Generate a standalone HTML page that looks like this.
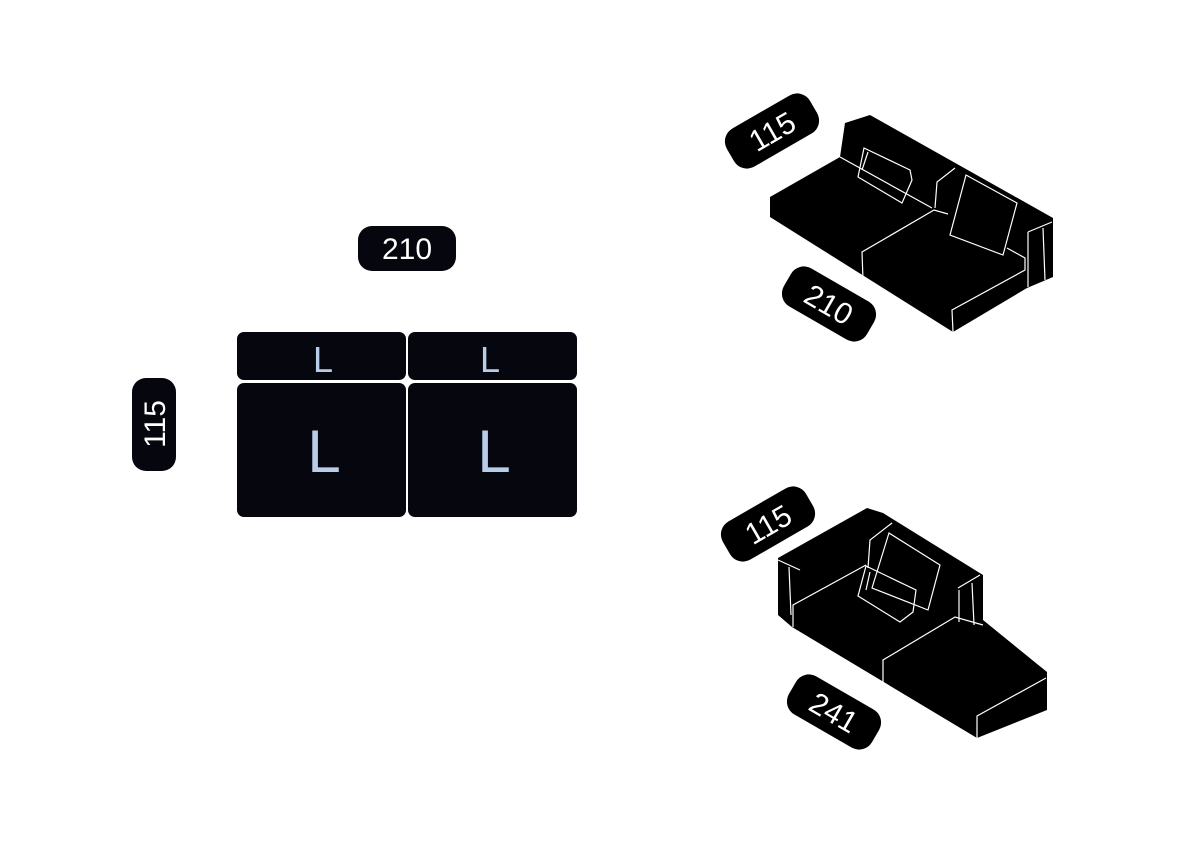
<!DOCTYPE html>
<html><head><meta charset="utf-8"><style>
html,body{margin:0;padding:0;background:#fff;}
svg{display:block}
text{font-family:"Liberation Sans",sans-serif;}
</style></head><body>
<svg width="1200" height="847" viewBox="0 0 1200 847" xmlns="http://www.w3.org/2000/svg">
<rect width="1200" height="847" fill="#fff"/>
<!-- plan -->
<rect x="358" y="226" width="98" height="45" rx="14" fill="#06060f"/>
<text x="407" y="259" font-size="30" fill="#fff" text-anchor="middle">210</text>
<rect x="132" y="378" width="44" height="93" rx="14" fill="#06060f"/>
<text transform="translate(165,424) rotate(-90)" font-size="30" fill="#fff" text-anchor="middle">115</text>
<g fill="#06060f">
<rect x="237" y="332" width="169" height="48" rx="7"/>
<rect x="408" y="332" width="169" height="48" rx="7"/>
<rect x="237" y="383" width="169" height="134" rx="7"/>
<rect x="408" y="383" width="169" height="134" rx="7"/>
</g>
<g fill="#b7cde8" text-anchor="middle">
<text x="323" y="372" font-size="36">L</text>
<text x="490" y="372" font-size="36">L</text>
<text x="324" y="472" font-size="60">L</text>
<text x="494" y="472" font-size="60">L</text>
</g>
<!-- top-right sofa -->
<polygon points="770,197 840,157 845,123 870,115 1053,218 1053,277 1027,288 953,332 770,217" fill="#000"/>
<g fill="none" stroke="#fff" stroke-width="1.2">
<polyline points="840,157 932,208"/>
<polyline points="863,280 862,252 934,210 948,214"/>
<polyline points="953,332 952,310 1025,270 1025,258 1007,248"/>
<polyline points="935,208 937,182 955,168"/>
<polygon points="864,148 910,170 912,180 902,203 858,177"/>
<polyline points="868,152 862,170"/>
<polygon points="966,175 1017,203 1003,255 950,235"/>
<polyline points="1028,232 1052,222"/>
<polyline points="1028,232 1028,287"/>
<polyline points="1043,228 1045,280"/>
</g>
<!-- bottom-right sofa -->
<polygon points="778,558 867,508 883,513 983,575 983,620 1047,672 1047,710 977,738 792,627 778,615" fill="#000"/>
<g fill="none" stroke="#fff" stroke-width="1.2">
<polyline points="778,560 800,570"/>
<polyline points="789,567 791,615"/>
<polyline points="793,627 793,605 866,565"/>
<polyline points="883,685 883,660 955,617 983,625"/>
<polyline points="977,738 977,716 1046,678"/>
<polyline points="868,568 870,540 892,523"/>
<polygon points="889,533 940,565 928,610 872,588"/>
<polygon points="866,566 916,590 913,612 900,622 858,596"/>
<polyline points="870,572 866,590"/>
<polyline points="958,588 980,575"/>
<polyline points="959,590 959,622"/>
<polyline points="972,583 974,625"/>
</g>
<!-- rotated labels -->
<g transform="translate(772,131) rotate(-30)"><rect x="-48" y="-22" width="96" height="44" rx="15" fill="#000"/><text y="11" font-size="30" fill="#fff" text-anchor="middle">115</text></g>
<g transform="translate(829,304) rotate(30)"><rect x="-48" y="-22" width="96" height="44" rx="15" fill="#000"/><text y="11" font-size="30" fill="#fff" text-anchor="middle">210</text></g>
<g transform="translate(768,524) rotate(-30)"><rect x="-48" y="-22" width="96" height="44" rx="15" fill="#000"/><text y="11" font-size="30" fill="#fff" text-anchor="middle">115</text></g>
<g transform="translate(834,712) rotate(30)"><rect x="-48" y="-22" width="96" height="44" rx="15" fill="#000"/><text y="11" font-size="30" fill="#fff" text-anchor="middle">241</text></g>
</svg>
</body></html>
